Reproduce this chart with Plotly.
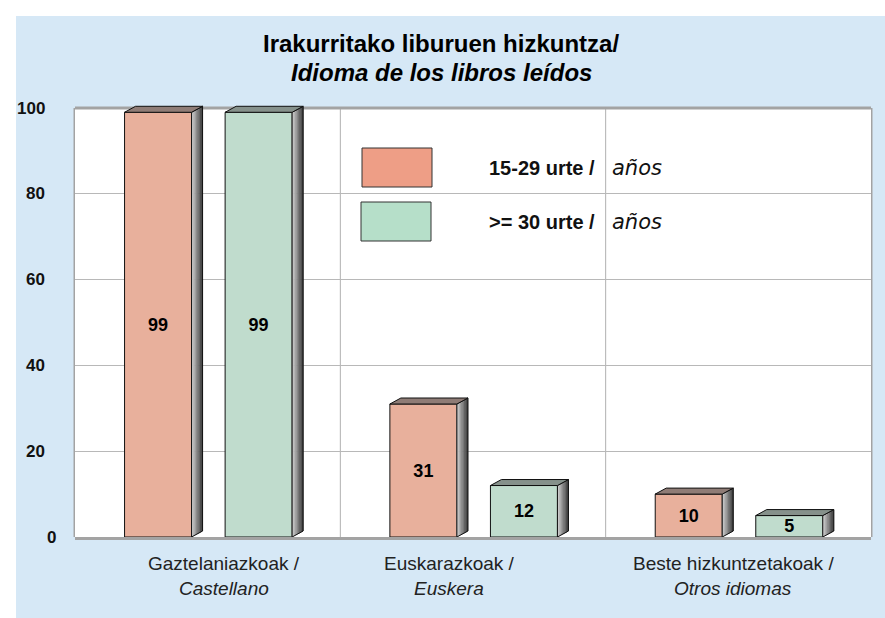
import plotly.graph_objects as go

# ---------------- data ----------------
categories_eu = ["Gaztelaniazkoak /", "Euskarazkoak /", "Beste hizkuntzetakoak /"]
categories_es = ["Castellano", "Euskera", "Otros idiomas"]
series_eu = ["15-29 urte /", ">= 30 urte /"]
series_es = ["años", "años"]
young = [99, 31, 10]      # 15-29 urte / años
older = [99, 12, 5]       # >= 30 urte / años
y_ticks = [0, 20, 40, 60, 80, 100]
title_eu = "Irakurritako liburuen hizkuntza/"
title_es = "Idioma de los libros leídos"

# ---------------- geometry / style ----------------
W, H = 885, 618
L, R, T, B = 75, 871, 101, 537       # plot area in pixels
Y100 = 108                            # pixel row of value 100
UPP = (B - Y100) / 100.0              # px per y unit
YMAX = (B - T) / UPP
XPU = (R - L) / 3.0                   # px per x unit

BW = 67 / XPU
OFFS = [-0.187, 0.192]
DX = 11 / XPU
DY = 6 / UPP

BG = "#d6e8f6"
BAR_COLORS = ["#e8b09c", "#c0dccd"]
TOP_COLORS = ["#8f7c76", "#86918b"]
LEG_COLORS = ["#ee9e86", "#b6dfc9"]
FONT = "Liberation Sans, Arial, sans-serif"
WIDE = "DejaVu Sans, Verdana, sans-serif"


def pxx(x):
    return (x - L) / (R - L)


def pxy(y):
    return (B - y) / (B - T)


def lerp_color(c0, c1, t):
    a = [int(c0[i:i + 2], 16) for i in (1, 3, 5)]
    b = [int(c1[i:i + 2], 16) for i in (1, 3, 5)]
    return "#%02x%02x%02x" % tuple(round(a[i] + (b[i] - a[i]) * t) for i in range(3))


fig = go.Figure()

series = [young, older]
for s, vals in enumerate(series):
    xs = [i + OFFS[s] for i in range(len(vals))]
    fig.add_trace(go.Bar(
        x=xs, y=vals, width=BW,
        marker=dict(color=BAR_COLORS[s], line=dict(color="#111111", width=1)),
        text=["<b>%d</b>" % v for v in vals],
        textposition="inside", insidetextanchor="middle", constraintext="none",
        textangle=0,
        textfont=dict(family=FONT, size=18, color="#000000"),
        hoverinfo="skip", showlegend=False,
    ))

# 3D faces
N = 8
for s, vals in enumerate(series):
    for i, v in enumerate(vals):
        xc = i + OFFS[s]
        x0, x1 = xc - BW / 2, xc + BW / 2
        for k in range(N):
            t0, t1 = k / N, (k + 1) / N
            col = lerp_color("#dadada", "#363636", (k + 0.5) / N)
            fig.add_trace(go.Scatter(
                x=[x1 + DX * t0, x1 + DX * t0, x1 + DX * t1, x1 + DX * t1, x1 + DX * t0],
                y=[DY * t0, v + DY * t0, v + DY * t1, DY * t1, DY * t0],
                mode="lines", fill="toself", fillcolor=col,
                line=dict(color=col, width=0.6),
                hoverinfo="skip", showlegend=False, cliponaxis=False))
        fig.add_trace(go.Scatter(
            x=[x1, x1, x1 + DX, x1 + DX, x1],
            y=[0, v, v + DY, DY, 0],
            mode="lines", line=dict(color="#111111", width=1),
            hoverinfo="skip", showlegend=False, cliponaxis=False))
        fig.add_trace(go.Scatter(
            x=[x0, x0 + DX, x1 + DX, x1, x0],
            y=[v, v + DY, v + DY, v, v],
            mode="lines", fill="toself", fillcolor=TOP_COLORS[s],
            line=dict(color="#111111", width=1),
            hoverinfo="skip", showlegend=False, cliponaxis=False))

shapes = []
shapes.append(dict(type="rect", xref="paper", yref="paper",
                   x0=pxx(-5), x1=pxx(16), y0=pxy(-5), y1=pxy(H + 5),
                   fillcolor="white", line=dict(width=0), layer="below"))
shapes.append(dict(type="rect", xref="paper", yref="paper",
                   x0=pxx(-5), x1=pxx(W + 5), y0=pxy(-5), y1=pxy(16),
                   fillcolor="white", line=dict(width=0), layer="below"))
n = len(categories_eu)
shapes.append(dict(type="rect", xref="x", yref="y", x0=-0.5, x1=n - 0.5, y0=0, y1=100,
                   fillcolor="white", line=dict(width=0), layer="below"))
for i in range(n - 1):
    shapes.append(dict(type="line", xref="x", yref="y", x0=i + 0.5, x1=i + 0.5, y0=0, y1=100,
                       line=dict(color="#b0b0b0", width=1), layer="below"))
shapes.append(dict(type="line", xref="x", yref="y", x0=-0.5, x1=n - 0.5, y0=100, y1=100,
                   line=dict(color="#a3a3a3", width=3), layer="below"))
shapes.append(dict(type="line", xref="paper", yref="y", x0=0, x1=0, y0=0, y1=100,
                   line=dict(color="#a3a3a3", width=3), layer="below"))
shapes.append(dict(type="line", xref="paper", yref="y", x0=1, x1=1, y0=0, y1=100,
                   line=dict(color="#a3a3a3", width=3), layer="below"))

leg_boxes = [(362, 148, 432, 187), (361, 202, 431, 241)]
for s, (a, b, c, d) in enumerate(leg_boxes):
    shapes.append(dict(type="rect", xref="paper", yref="paper",
                       x0=pxx(a), x1=pxx(c), y0=pxy(d), y1=pxy(b),
                       fillcolor=LEG_COLORS[s], line=dict(color="#333333", width=1), layer="above"))

ann = []
ann.append(dict(text="<b>%s</b>" % title_eu, xref="paper", yref="paper", x=pxx(441), y=pxy(44),
                xanchor="center", yanchor="middle", showarrow=False,
                font=dict(family=FONT, size=24, color="#000000")))
ann.append(dict(text="<b><i>%s</i></b>" % title_es, xref="paper", yref="paper", x=pxx(441), y=pxy(73),
                xanchor="center", yanchor="middle", showarrow=False,
                font=dict(family=FONT, size=24, color="#000000")))
for v in y_ticks:
    xr = 58 if v == 0 else 47
    ann.append(dict(text="<b>%d</b>" % v, xref="paper", yref="y", x=pxx(xr), y=v,
                    xanchor="right", yanchor="middle", showarrow=False,
                    font=dict(family=FONT, size=17, color="#111111")))
cat_shift = [16, -24, -5]
for i in range(n):
    ann.append(dict(text=categories_eu[i], xref="x", yref="paper", x=i, xshift=cat_shift[i],
                    y=pxy(563), xanchor="center", yanchor="middle", showarrow=False,
                    font=dict(family=FONT, size=19, color="#222222")))
    ann.append(dict(text="<i>%s</i>" % categories_es[i], xref="x", yref="paper", x=i, xshift=cat_shift[i],
                    y=pxy(588), xanchor="center", yanchor="middle", showarrow=False,
                    font=dict(family=FONT, size=19, color="#222222")))
leg_y = [168, 222]
for s in range(2):
    ann.append(dict(text="<b>%s</b>" % series_eu[s], xref="paper", yref="paper", x=pxx(597), y=pxy(leg_y[s]),
                    xanchor="right", yanchor="middle", showarrow=False,
                    font=dict(family=FONT, size=20, color="#111111")))
    ann.append(dict(text="<i>%s</i>" % series_es[s], xref="paper", yref="paper", x=pxx(610), y=pxy(leg_y[s]),
                    xanchor="left", yanchor="middle", showarrow=False,
                    font=dict(family=WIDE, size=21, color="#111111")))

fig.update_layout(
    width=W, height=H,
    margin=dict(l=L, r=W - R, t=T, b=H - B, pad=0),
    paper_bgcolor=BG, plot_bgcolor=BG,
    barmode="overlay",
    showlegend=False,
    shapes=shapes,
    annotations=ann,
    xaxis=dict(range=[-0.5, n - 0.5], showticklabels=False, showgrid=False, zeroline=False,
               showline=True, linecolor="#a3a3a3", linewidth=3, ticks="", fixedrange=True),
    yaxis=dict(range=[0, YMAX], tickvals=y_ticks[1:-1], showticklabels=False, showgrid=True,
               gridcolor="#b8b8b8", gridwidth=1, zeroline=False, showline=False, ticks="",
               fixedrange=True),
)

fig.write_html("out.html", config={"displayModeBar": False},
               post_script="document.body.style.margin='0';document.body.style.overflow='hidden';")
